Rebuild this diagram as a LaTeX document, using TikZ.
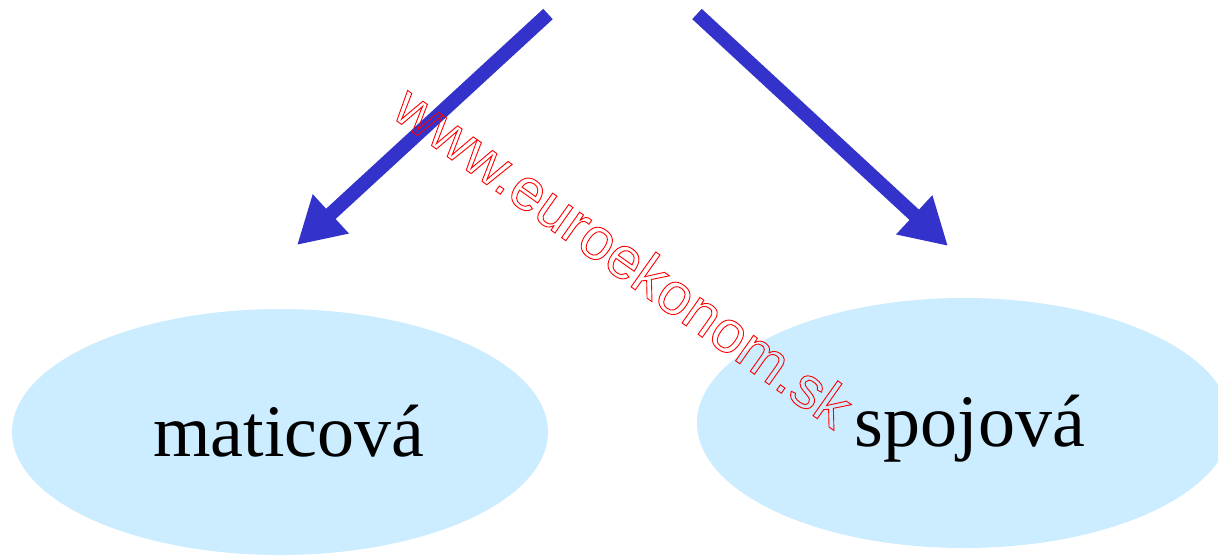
\documentclass[tikz,border=0pt]{standalone}
\usepackage{fontspec}
\setmainfont{Liberation Serif}
\newfontfamily\wmfont{Liberation Sans}
\usetikzlibrary{arrows.meta,shapes.geometric}
\definecolor{arrowblue}{RGB}{51,51,204}
\definecolor{ellblue}{RGB}{204,236,255}
\newcommand{\outlinetext}[1]{\special{pdf:literal direct 1 Tr 0.9 w}#1\special{pdf:literal direct 0 Tr}}
\tikzset{
  bigarrow/.style={draw=arrowblue, line width=14pt, -{Triangle[length=46pt,width=50pt]}},
  ellnode/.style={ellipse, fill=ellblue, draw=none, inner sep=0pt},
  lbl/.style={font=\fontsize{74}{80}\selectfont, text=black},
}
\begin{document}
\begin{tikzpicture}[x=1pt,y=-1pt]
\useasboundingbox (0,0) rectangle (1218,555);
\node[ellnode, minimum width=536pt, minimum height=246pt] (e1) at (280,432) {};
\node[ellnode, minimum width=534pt, minimum height=250pt] (e2) at (964,423) {};
\node[lbl, anchor=base] (t1) at (289,456) {maticová};
\node[lbl, anchor=base] (t2) at (970,446) {spojová};
\coordinate (s1) at (548,14);
\coordinate (a1) at (297,245);
\coordinate (s2) at (697,14);
\coordinate (a2) at (948,246);
\draw[bigarrow] (s1) -- (a1);
\draw[bigarrow] (s2) -- (a2);
\node[rotate=-35.3, text=red, font=\wmfont\fontsize{59}{64}\selectfont, inner sep=0pt] (wm) at (624,256)
  {\outlinetext{www.euroekonom.sk}};
\end{tikzpicture}
\end{document}
